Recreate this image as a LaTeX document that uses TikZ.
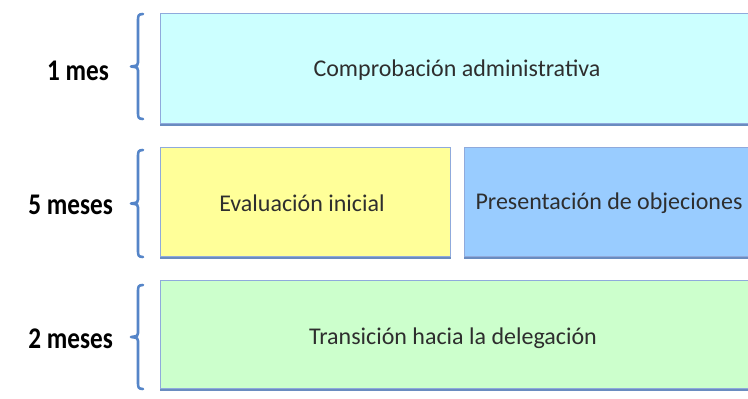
\documentclass[tikz,border=0pt]{standalone}
\usepackage{fontspec}
\setmainfont{Carlito}
\definecolor{cyanbox}{HTML}{CCFFFF}
\definecolor{yellowbox}{HTML}{FFFF99}
\definecolor{bluebox}{HTML}{99CCFF}
\definecolor{greenbox}{HTML}{CCFFCC}
\definecolor{edge}{HTML}{8FAADC}
\definecolor{shadowedge}{HTML}{6A8CC0}
\definecolor{bracecol}{HTML}{5585C8}
\definecolor{txt}{HTML}{2E2E2E}
\tikzset{
  phase/.style={draw=edge, line width=1pt, inner sep=0pt, anchor=north west},
  phasetext/.style={text=txt, font=\fontsize{24}{28}\selectfont, inner sep=0pt},
  dur/.style={anchor=east, font=\bfseries\fontsize{30}{34}\selectfont, text=black, inner sep=0pt, xscale=0.84},
  bracket/.style={draw=bracecol, line width=2.6pt, line cap=round, line join=round},
}
\newcommand{\mybrace}[3]{% x, ytop, ybot
  \pgfmathsetmacro{\ymid}{(#2+#3)/2}
  \draw[bracket] (#1+7,#2) .. controls (#1+2,#2) and (#1+2,#2+2) .. (#1+2,#2+7)
    -- (#1+2,\ymid-4) .. controls (#1+2,\ymid-1) .. (#1-5,\ymid)
    .. controls (#1+2,\ymid+1) .. (#1+2,\ymid+4)
    -- (#1+2,#3-7) .. controls (#1+2,#3-2) and (#1+2,#3) .. (#1+7,#3);
}
\begin{document}
\begin{tikzpicture}[x=1pt,y=-1pt]
\useasboundingbox (0,0) rectangle (748,399);
\clip (0,0) rectangle (748,399);
\fill[white] (0,0) rectangle (748,399);
% boxes
\node[phase, fill=cyanbox, minimum width=620pt, minimum height=110pt] (b1) at (160,13) {};
\node[phasetext] (t1) at (457,70) {Comprobación administrativa};
\node[phase, fill=yellowbox, minimum width=290pt, minimum height=109pt] (b2) at (160,147) {};
\node[phasetext] (t2) at (302,203) {Evaluación inicial};
\node[phase, fill=bluebox, minimum width=320pt, minimum height=109pt] (b3) at (464,147) {};
\node[phasetext] (t3) at (609,203) {Presentación de objeciones};
\node[phase, fill=greenbox, minimum width=620pt, minimum height=108pt] (b4) at (160,280) {};
\node[phasetext] (t4) at (453,338) {Transición hacia la delegación};
% shadow bottoms
\foreach \b in {b1,b2,b3,b4}{
  \draw[shadowedge, line width=2.5pt] ([yshift=-1pt]\b.south west) -- ([yshift=-1pt]\b.south east);
}
% braces
\mybrace{136}{14}{119}
\mybrace{136}{150}{257}
\mybrace{136}{285}{389}
% labels
\node[dur] (d1) at (109,71) {1 mes};
\node[dur] (d2) at (113,205) {5 meses};
\node[dur] (d3) at (113,339) {2 meses};
\end{tikzpicture}
\end{document}
